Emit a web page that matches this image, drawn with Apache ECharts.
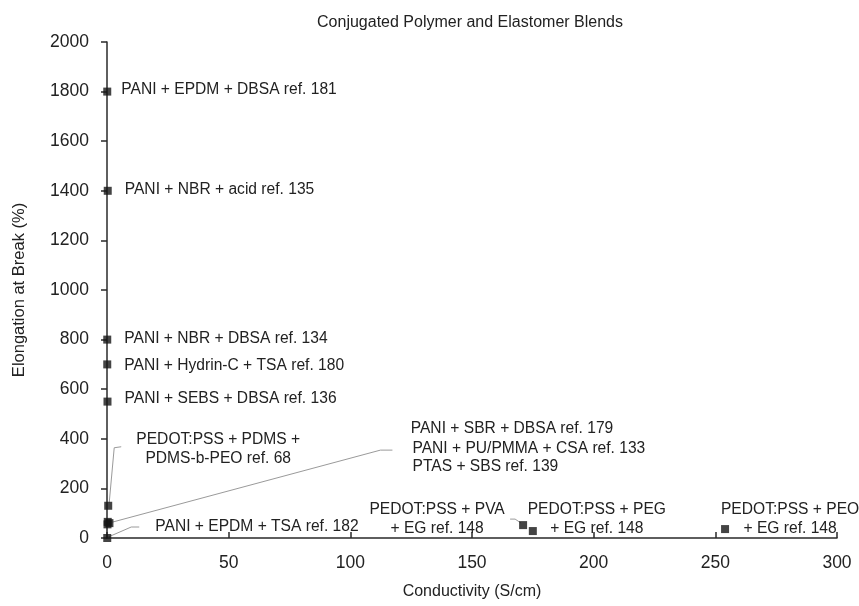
<!DOCTYPE html>
<html>
<head>
<meta charset="utf-8">
<script src="https://cdn.jsdelivr.net/npm/echarts@6/dist/echarts.min.js"></script>
<style>
  html, body { margin: 0; padding: 0; background: #fff; }
  #chart { width: 859px; height: 606px; }
</style>
</head>
<body>
<div id="chart"></div>
<script>
// Blend names, conductivity (S/cm) and elongation at break (%)
const blendNames = [
  'PANI + EPDM + DBSA ref. 181',
  'PANI + NBR + acid ref. 135',
  'PANI + NBR + DBSA ref. 134',
  'PANI + Hydrin-C + TSA ref. 180',
  'PANI + SEBS + DBSA ref. 136',
  'PEDOT:PSS + PDMS +\nPDMS-b-PEO ref. 68',
  'PANI + SBR + DBSA ref. 179',
  'PANI + PU/PMMA + CSA ref. 133',
  'PTAS + SBS ref. 139',
  'PANI + EPDM + TSA ref. 182',
  'PEDOT:PSS + PVA\n+ EG ref. 148',
  'PEDOT:PSS + PEG\n+ EG ref. 148',
  'PEDOT:PSS + PEO\n+ EG ref. 148'
];
const conductivity = [0.1, 0.3, 0.1, 0.1, 0.2, 0.5, 0.3, 1, 0.2, 0.1, 171, 175, 254];
const elongation   = [1800, 1400, 800, 700, 550, 130, 65, 60, 55, 0, 52, 28, 36];

const xTicks = { min: 0, max: 300, interval: 50 };
const yTicks = { min: 0, max: 2000, interval: 200 };

// Label placement (pixel offsets from each marker) and leader polylines
const labelPlacement = [
  { dx: 14, dy: -2, align: 'left' },
  { dx: 17, dy: -1, align: 'left' },
  { dx: 17, dy: -1, align: 'left' },
  { dx: 17, dy: 1, align: 'left' },
  { dx: 17, dy: -3, align: 'left' },
  { dx: 110, dy: -57, align: 'center', leader: [[1, -3], [6, -58], [13, -59]] },
  { dx: 303, dy: -93, align: 'left' },
  { dx: 303, dy: -74, align: 'left', leader: [[3, -1], [271, -73], [283, -73]] },
  { dx: 305, dy: -58, align: 'left' },
  { dx: 48, dy: -11, align: 'left', leader: [[1, -1], [24, -11], [32, -11]] },
  { dx: -86, dy: -6, align: 'center', leader: [[-13, -6], [-8, -6], [-2, -2]] },
  { dx: 64, dy: -12, align: 'center' },
  { dx: 65, dy: -10, align: 'center' }
];

const FONT = '"Liberation Sans", Arial, Helvetica, sans-serif';
const TEXT = '#222';
const AXIS = '#2a2a2a';

const chart = echarts.init(document.getElementById('chart'), null, { renderer: 'canvas' });

const points = conductivity.map((c, i) => [c, elongation[i]]);

chart.setOption({
  animation: false,
  backgroundColor: '#fff',
  title: {
    text: 'Conjugated Polymer and Elastomer Blends',
    left: 465,
    top: 10,
    textAlign: 'center',
    textStyle: { fontFamily: FONT, fontSize: 16, fontWeight: 'normal', color: TEXT }
  },
  grid: { left: 107, right: 22, top: 42, bottom: 68, containLabel: false, outerBoundsMode: 'none' },
  xAxis: {
    type: 'value',
    min: xTicks.min, max: xTicks.max, interval: xTicks.interval,
    name: 'Conductivity (S/cm)',
    nameLocation: 'middle',
    nameGap: 46,
    nameTextStyle: { fontFamily: FONT, fontSize: 16, color: TEXT },
    axisLine: { show: true, onZero: false, lineStyle: { color: AXIS, width: 1.5 } },
    axisTick: { show: true, inside: true, length: 6, lineStyle: { color: AXIS, width: 1.5 } },
    axisLabel: { fontFamily: FONT, fontSize: 17.5, color: TEXT, margin: 16, formatter: v => String(v) },
    splitLine: { show: false }
  },
  yAxis: {
    type: 'value',
    min: yTicks.min, max: yTicks.max, interval: yTicks.interval,
    name: 'Elongation at Break (%)',
    nameLocation: 'middle',
    nameGap: 79,
    nameTextStyle: { fontFamily: FONT, fontSize: 16.5, color: TEXT },
    axisLine: { show: true, onZero: false, lineStyle: { color: AXIS, width: 1.5 } },
    axisTick: { show: true, inside: false, length: 6, lineStyle: { color: AXIS, width: 1.5 } },
    axisLabel: { fontFamily: FONT, fontSize: 17.5, color: TEXT, margin: 18, formatter: v => String(v) },
    splitLine: { show: false }
  },
  series: [{
    type: 'scatter',
    data: points,
    symbol: 'rect',
    symbolSize: 8,
    itemStyle: { color: '#151515' },
    z: 5
  }]
});

// Annotation text and leader lines anchored to the plotted markers
const graphics = [];
points.forEach((p, i) => {
  const [px, py] = chart.convertToPixel({ seriesIndex: 0 }, p);
  const lp = labelPlacement[i];
  if (lp.leader) {
    graphics.push({
      type: 'polyline',
      silent: true,
      z: 3,
      shape: { points: lp.leader.map(([ox, oy]) => [px + ox, py + oy]) },
      style: { stroke: '#9a9a9a', lineWidth: 1, fill: null }
    });
  }
  graphics.push({
    type: 'text',
    silent: true,
    z: 4,
    style: {
      text: blendNames[i],
      x: px + lp.dx,
      y: py + lp.dy,
      align: lp.align,
      verticalAlign: 'middle',
      textAlign: lp.align,
      textVerticalAlign: 'middle',
      font: '15.6px ' + FONT,
      lineHeight: 19,
      fill: TEXT
    }
  });
});
chart.setOption({ graphic: graphics });
</script>
</body>
</html>
